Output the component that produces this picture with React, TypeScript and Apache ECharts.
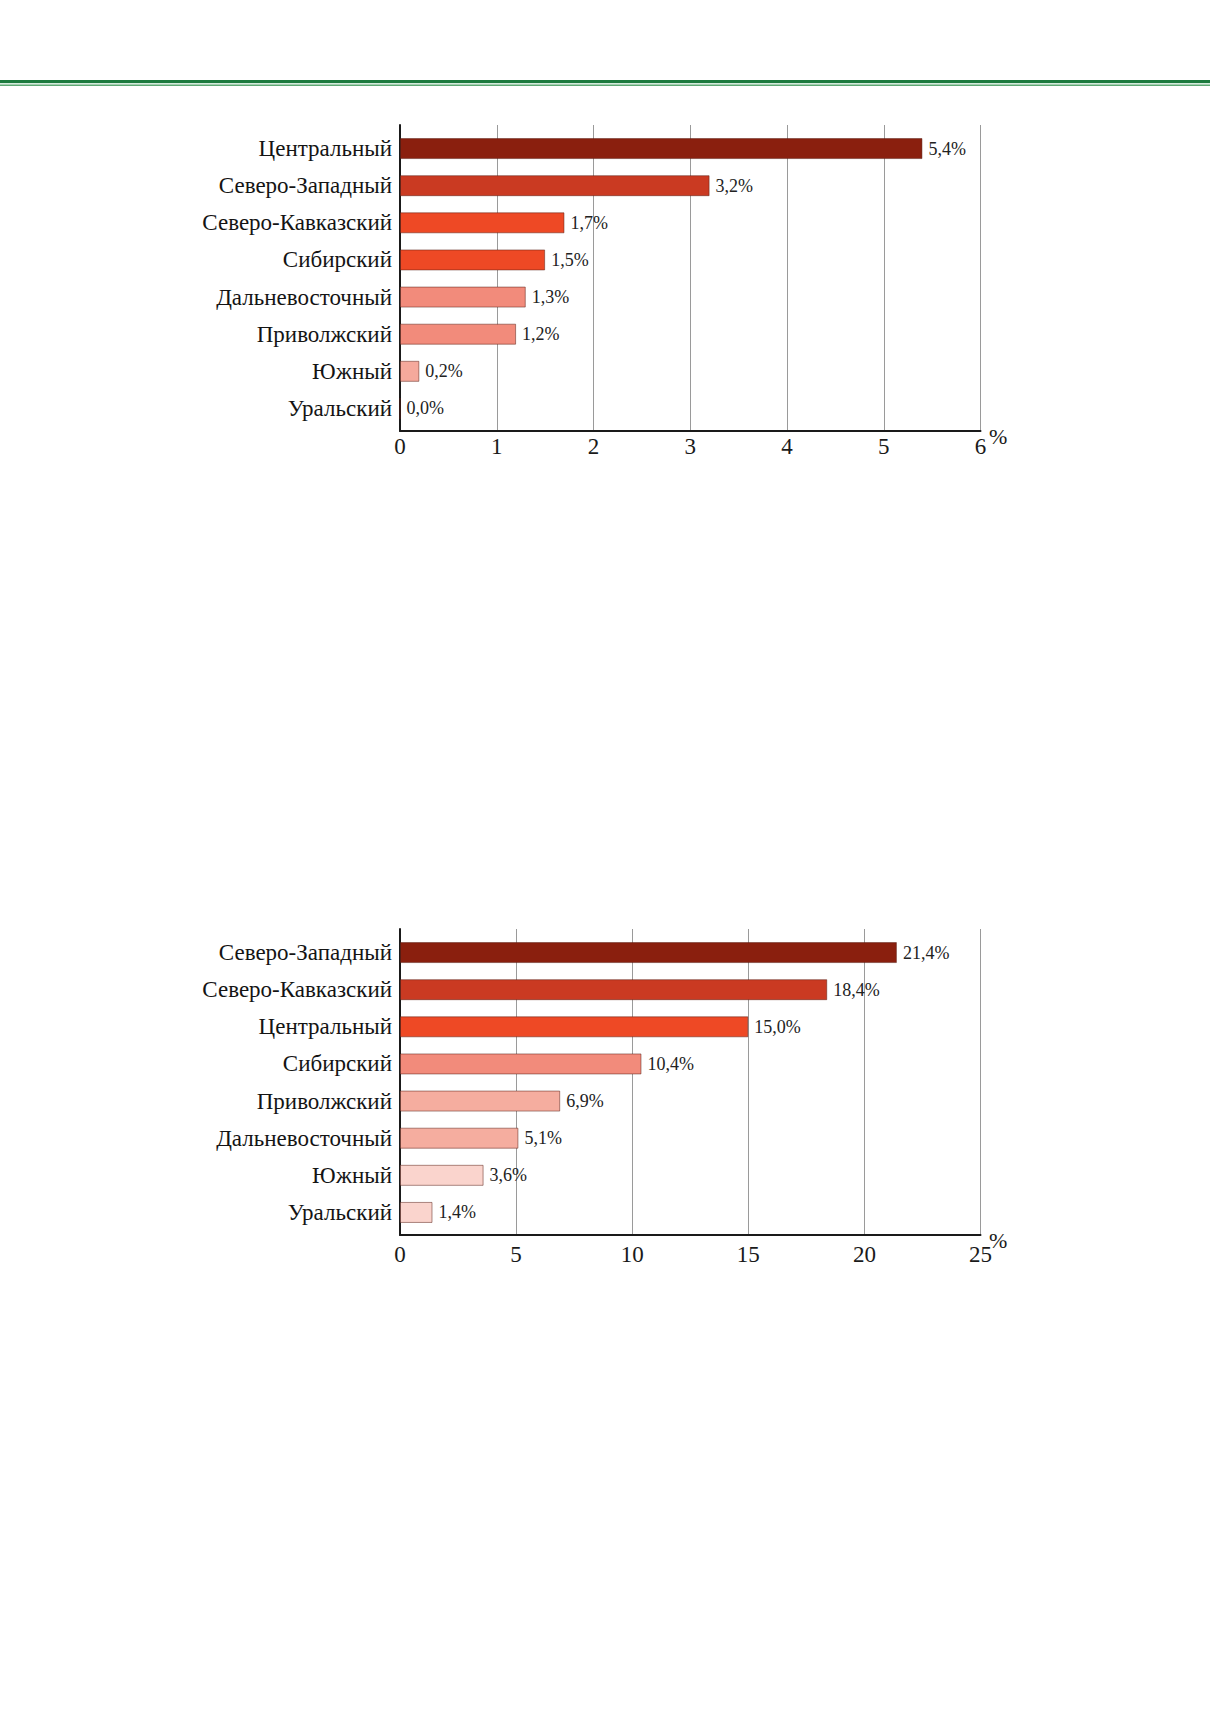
import React, { useEffect, useRef } from "react";
import * as echarts from "echarts";

const cats1 = ["Центральный", "Северо-Западный", "Северо-Кавказский", "Сибирский", "Дальневосточный", "Приволжский", "Южный", "Уральский"];
const vals1 = [5.4, 3.2, 1.7, 1.5, 1.3, 1.2, 0.2, 0.0];
const colors1 = ["#8a1f0e", "#ca3a22", "#ee4925", "#ee4925", "#f28b7b", "#f28b7b", "#f5a99c", "#f5a99c"];
const ticks1 = [0, 1, 2, 3, 4, 5, 6];

const cats2 = ["Северо-Западный", "Северо-Кавказский", "Центральный", "Сибирский", "Приволжский", "Дальневосточный", "Южный", "Уральский"];
const vals2 = [21.4, 18.4, 15.0, 10.4, 6.9, 5.1, 3.6, 1.4];
const colors2 = ["#8a1f0e", "#ca3a22", "#ee4925", "#f28b7b", "#f5ad9f", "#f5ad9f", "#fad4cd", "#fad4cd"];
const ticks2 = [0, 5, 10, 15, 20, 25];

const FONT = '"Liberation Serif", "Times New Roman", serif';

function fmt(v: number) {
  return v.toFixed(1).replace(".", ",") + "%";
}

export default function App() {
  const ref = useRef<HTMLDivElement>(null);
  useEffect(() => {
    if (!ref.current) return;
    const chart = echarts.init(ref.current, null, { renderer: "svg" });

    const L = 400;
    const R = 1210 - 980.5;
    const charts = [
      { cats: cats1, vals: vals1, colors: colors1, ticks: ticks1, top: 125, labelMargin: 4 },
      { cats: cats2, vals: vals2, colors: colors2, ticks: ticks2, top: 929, labelMargin: 8 },
    ];

    const grid: any[] = [];
    const xAxis: any[] = [];
    const yAxis: any[] = [];
    const series: any[] = [];
    const graphic: any[] = [
      { type: "rect", shape: { x: 0, y: 80, width: 1210, height: 3 }, style: { fill: "#1b7a3d" } },
      { type: "rect", shape: { x: 0, y: 83, width: 1210, height: 1.5 }, style: { fill: "#d3eadb" } },
      { type: "rect", shape: { x: 0, y: 84.5, width: 1210, height: 1.5 }, style: { fill: "#5fa874" } },
    ];

    charts.forEach((c, i) => {
      const min = c.ticks[0];
      const max = c.ticks[c.ticks.length - 1];
      const interval = c.ticks[1] - c.ticks[0];
      const gAxes = i * 2;
      const gBars = i * 2 + 1;
      grid.push({ left: L, right: R, top: c.top, height: 306 });
      grid.push({ left: L, right: R, top: c.top + 5, height: 297 });

      xAxis.push({
        type: "value",
        gridIndex: gAxes,
        min,
        max,
        interval,
        axisLine: { show: true, lineStyle: { color: "#1a1a1a", width: 2 } },
        axisTick: { show: false },
        splitLine: { show: true, lineStyle: { color: "#9a9a9a", width: 1 } },
        axisLabel: {
          show: true,
          margin: c.labelMargin,
          fontFamily: FONT,
          fontSize: 23,
          color: "#1a1a1a",
          showMinLabel: true,
          showMaxLabel: true,
        },
      });
      xAxis.push({
        type: "value",
        gridIndex: gBars,
        min,
        max,
        show: false,
      });
      yAxis.push({
        type: "value",
        gridIndex: gAxes,
        min: 0,
        max: 1,
        axisLine: { show: true, lineStyle: { color: "#1a1a1a", width: 2 } },
        axisTick: { show: false },
        axisLabel: { show: false },
        splitLine: { show: false },
      });
      yAxis.push({
        type: "category",
        gridIndex: gBars,
        inverse: true,
        data: c.cats,
        axisLine: { show: false },
        axisTick: { show: false },
        splitLine: { show: false },
        axisLabel: {
          margin: 8,
          fontFamily: FONT,
          fontSize: 23,
          color: "#141414",
        },
      });
      series.push({
        type: "bar",
        xAxisIndex: gBars,
        yAxisIndex: gBars,
        barWidth: 21,
        data: c.vals.map((v, k) => ({
          value: v,
          itemStyle: { color: c.colors[k] },
        })),
        itemStyle: { borderColor: "rgba(90,30,20,0.5)", borderWidth: 1 },
        label: {
          show: true,
          position: "right",
          distance: 6,
          fontFamily: FONT,
          fontSize: 18,
          color: "#222",
          formatter: (p: any) => fmt(p.value),
        },
      });
      graphic.push({
        type: "text",
        left: 989,
        top: c.top + 306 - 6,
        style: { text: "%", font: `22px ${FONT}`, fill: "#1a1a1a" },
      });
    });

    chart.setOption({
      animation: false,
      backgroundColor: "#ffffff",
      grid,
      xAxis,
      yAxis,
      series,
      graphic,
    });
    return () => chart.dispose();
  }, []);

  return (
    <div
      ref={ref}
      style={{ position: "absolute", left: 0, top: 0, width: 1210, height: 1712, background: "#fff" }}
    />
  );
}
